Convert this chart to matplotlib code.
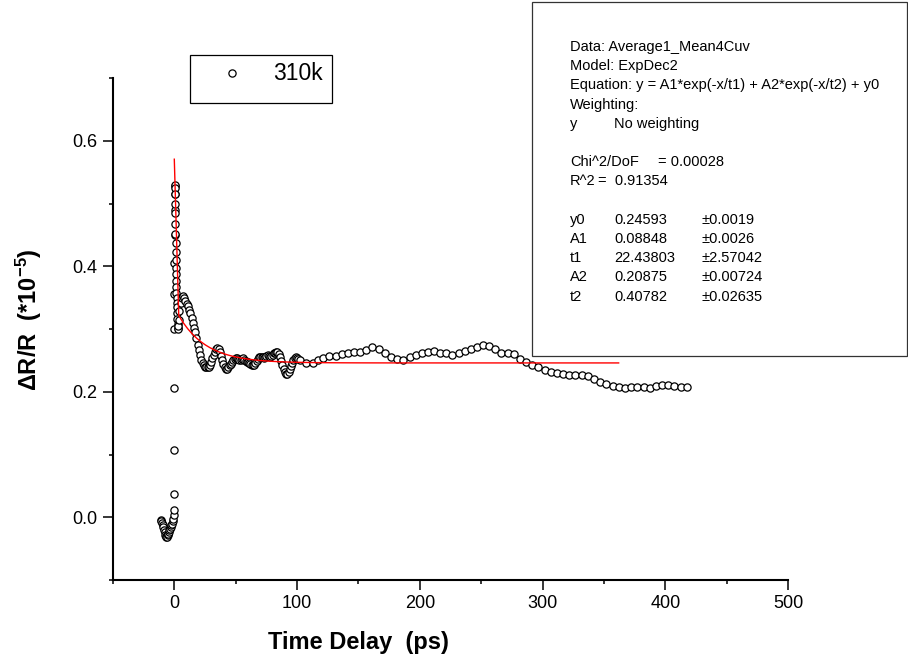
import numpy as np
import matplotlib
matplotlib.use("Agg")
import matplotlib.pyplot as plt
from matplotlib.patches import Rectangle
from matplotlib.lines import Line2D
from matplotlib.ticker import MultipleLocator

plt.rcParams['font.family'] = ['Liberation Sans', 'DejaVu Sans']
plt.rcParams['mathtext.fontset'] = 'custom'
plt.rcParams['mathtext.rm'] = 'Liberation Sans:bold'
plt.rcParams['mathtext.bf'] = 'Liberation Sans:bold'
plt.rcParams['mathtext.default'] = 'bf'

# ---- measured transient reflectivity, 310 K ----
# before time zero
pre_t = [-11.0, -10.5, -10.0, -9.5, -9.0, -8.5, -8.0, -7.5, -7.0, -6.5, -6.0,
         -5.5, -5.0, -4.5, -4.0, -3.5, -3.0, -2.5, -2.0, -1.5, -1.0, -0.5]
pre_dr = [-0.004, -0.006, -0.009, -0.012, -0.016, -0.020, -0.024, -0.028,
          -0.030, -0.031, -0.031, -0.029, -0.027, -0.024, -0.021, -0.019,
          -0.016, -0.013, -0.010, -0.006, -0.002, 0.003]

# rise and fast relaxation around time zero
spike_t = [-0.4, -0.3, -0.2, -0.1, 0.0, 0.05, 0.1, 0.15, 0.2, 0.25, 0.3, 0.35,
           0.4, 0.5, 0.6, 0.7, 0.8, 0.9, 1.0, 1.1, 1.2, 1.3, 1.4, 1.5, 1.6,
           1.7, 1.8, 1.9, 2.0, 2.2, 2.4, 2.6, 2.8, 3.0, 3.3, 3.6]
spike_dr = [0.011, 0.037, 0.107, 0.206, 0.300, 0.355, 0.405, 0.450, 0.490,
            0.515, 0.528, 0.530, 0.525, 0.515, 0.500, 0.485, 0.468, 0.452,
            0.437, 0.423, 0.410, 0.398, 0.387, 0.377, 0.367, 0.358, 0.350,
            0.342, 0.335, 0.325, 0.316, 0.308, 0.302, 0.300, 0.305, 0.315]

# 1 ps steps from 4 ps
fine_start = 4
fine_dr = [0.328, 0.342, 0.350, 0.352, 0.349, 0.344, 0.340,
           0.336, 0.331, 0.325, 0.318, 0.310, 0.302, 0.295, 0.285, 0.275, 0.266,
           0.258, 0.251, 0.246, 0.242, 0.240, 0.239, 0.239, 0.240, 0.243, 0.247,
           0.253, 0.259, 0.264, 0.268, 0.270, 0.268, 0.263, 0.257, 0.250, 0.244,
           0.240, 0.237, 0.237, 0.239, 0.242, 0.245, 0.248, 0.250, 0.252, 0.253,
           0.253, 0.252, 0.251, 0.251, 0.252, 0.253, 0.251, 0.249, 0.248, 0.247,
           0.246, 0.245, 0.243, 0.242, 0.243, 0.246, 0.249, 0.252, 0.255, 0.256,
           0.256, 0.255, 0.254, 0.255, 0.257, 0.258, 0.257, 0.256, 0.257, 0.259,
           0.261, 0.262, 0.263, 0.263, 0.260, 0.255, 0.249, 0.243, 0.236, 0.231,
           0.229, 0.229, 0.232, 0.236, 0.241, 0.246, 0.251, 0.254, 0.255, 0.254,
           0.252, 0.250]

# coarse steps at long delays
coarse_t = [107.4, 112.6, 116.9, 121.5, 126.4, 131.3, 136.8, 141.4, 146.3,
            151.5, 156.3, 161.2, 166.7, 171.6, 176.5, 181.6, 186.5, 191.7,
            196.6, 201.7, 206.6, 211.5, 216.5, 221.3, 226.5, 231.6, 236.5,
            241.4, 246.3, 251.5, 256.4, 261.6, 266.5, 271.6, 276.5, 281.7,
            286.6, 291.7, 296.6, 301.8, 306.7, 311.8, 316.7, 321.9, 326.8,
            332.0, 336.9, 342.0, 346.9, 352.1, 357.0, 362.2, 367.0, 372.2,
            377.1, 382.3, 387.2, 392.3, 397.2, 402.4, 407.3, 412.5, 417.4]
coarse_dr = [0.246, 0.246, 0.250, 0.254, 0.257, 0.257, 0.260, 0.261, 0.264,
             0.264, 0.267, 0.271, 0.268, 0.261, 0.255, 0.252, 0.251, 0.255,
             0.258, 0.261, 0.264, 0.265, 0.262, 0.262, 0.259, 0.262, 0.265,
             0.268, 0.271, 0.275, 0.273, 0.268, 0.262, 0.262, 0.260, 0.252,
             0.248, 0.243, 0.240, 0.235, 0.232, 0.230, 0.228, 0.226, 0.226,
             0.227, 0.225, 0.221, 0.216, 0.212, 0.209, 0.207, 0.206, 0.207,
             0.208, 0.208, 0.206, 0.209, 0.210, 0.210, 0.209, 0.208, 0.207]

fine_t = list(np.arange(fine_start, fine_start + len(fine_dr), 1.0))
delay = np.array(pre_t + spike_t + fine_t + coarse_t)
dR = np.array(pre_dr + spike_dr + fine_dr + coarse_dr)

# ---- ExpDec2 fit parameters ----
y0, A1, t1, A2, t2 = 0.24593, 0.08848, 22.43803, 0.20875, 0.40782
fit_range = (-0.05, 362.0)
fit_x = np.linspace(fit_range[0], fit_range[1], 101)
fit_y = A1 * np.exp(-fit_x / t1) + A2 * np.exp(-fit_x / t2) + y0

series_label = "310k"
fit_lines = [
    "Data: Average1_Mean4Cuv",
    "Model: ExpDec2",
    "Equation: y = A1*exp(-x/t1) + A2*exp(-x/t2) + y0",
    "Weighting:",
]
param_names = ["y0", "A1", "t1", "A2", "t2"]
param_vals = ["0.24593", "0.08848", "22.43803", "0.20875", "0.40782"]
param_errs = ["0.0019", "0.0026", "2.57042", "0.00724", "0.02635"]

# ---- figure ----
W, H = 908, 659
fig = plt.figure(figsize=(W / 100, H / 100), dpi=100)


def fx(px):
    return px / W


def fy(py):
    return 1 - py / H


ax = fig.add_axes([fx(113), fy(580), (788 - 113) / W, (580 - 78) / H])

marker_style = dict(marker='o', markersize=5.2, markerfacecolor='white',
                    markeredgecolor='black', markeredgewidth=0.9, linestyle='none')
ax.plot(delay, dR, **marker_style, zorder=2)
ax.plot(fit_x, fit_y, color='red', lw=1.0, zorder=3)

ax.set_xlim(-50, 500)
ax.set_ylim(-0.1, 0.7)
ax.xaxis.set_major_locator(MultipleLocator(100))
ax.xaxis.set_minor_locator(MultipleLocator(50))
ax.yaxis.set_major_locator(MultipleLocator(0.2))
ax.yaxis.set_minor_locator(MultipleLocator(0.1))
ax.set_yticks([0.0, 0.2, 0.4, 0.6])
ax.set_yticklabels(["0.0", "0.2", "0.4", "0.6"])

for s in ['top', 'right']:
    ax.spines[s].set_visible(False)
for s in ['left', 'bottom']:
    ax.spines[s].set_linewidth(1.5)

ax.tick_params(which='major', direction='out', length=7, width=1.1,
               labelsize=13, pad=4)
ax.tick_params(which='minor', direction='out', length=3, width=1.1)

ax.set_xlabel("Time Delay  (ps)", fontsize=17, fontweight='bold')
ax.xaxis.set_label_coords((358 - 113) / 675, (580 - 631) / 502)
ax.xaxis.label.set_va('top')
ax.set_ylabel("ΔR/R  (*10$^{-5}$)", fontsize=17, fontweight='bold')
ax.yaxis.set_label_coords((44 - 113) / 675, (580 - 320) / 502)

# legend box
fig.add_artist(Rectangle((fx(190), fy(103)), (332 - 190) / W, (103 - 55) / H,
                         transform=fig.transFigure, fill=False,
                         edgecolor='black', lw=0.9))
fig.add_artist(Line2D([fx(232)], [fy(73)], transform=fig.transFigure,
                      **marker_style))
fig.text(fx(273), fy(73), series_label, fontsize=16.5, va='center', ha='left')

# fit results box (tab-aligned columns)
fig.add_artist(Rectangle((fx(532), fy(356)), (907 - 532) / W, (356 - 2) / H,
                         transform=fig.transFigure, fill=False,
                         edgecolor='#333333', lw=0.9))
fs = 10.5
lx = 570
tab = 44
line_h = 19.2
top = 47
for i, s in enumerate(fit_lines):
    fig.text(fx(lx), fy(top + i * line_h), s, fontsize=fs, va='center')
fig.text(fx(lx), fy(top + 4 * line_h), "y", fontsize=fs, va='center')
fig.text(fx(lx + tab), fy(top + 4 * line_h), "No weighting", fontsize=fs, va='center')
fig.text(fx(lx), fy(top + 6 * line_h), "Chi^2/DoF", fontsize=fs, va='center')
fig.text(fx(lx + 2 * tab), fy(top + 6 * line_h), "= 0.00028", fontsize=fs, va='center')
fig.text(fx(lx), fy(top + 7 * line_h), "R^2", fontsize=fs, va='center')
fig.text(fx(598), fy(top + 7 * line_h), "=  0.91354", fontsize=fs, va='center')
for k, (n, v, e) in enumerate(zip(param_names, param_vals, param_errs)):
    yy = fy(top + (9 + k) * line_h)
    fig.text(fx(lx), yy, n, fontsize=fs, va='center')
    fig.text(fx(lx + tab), yy, v, fontsize=fs, va='center')
    fig.text(fx(lx + 3 * tab), yy, "\u00b1" + e, fontsize=fs, va='center')

fig.savefig("out.png", dpi=100)
